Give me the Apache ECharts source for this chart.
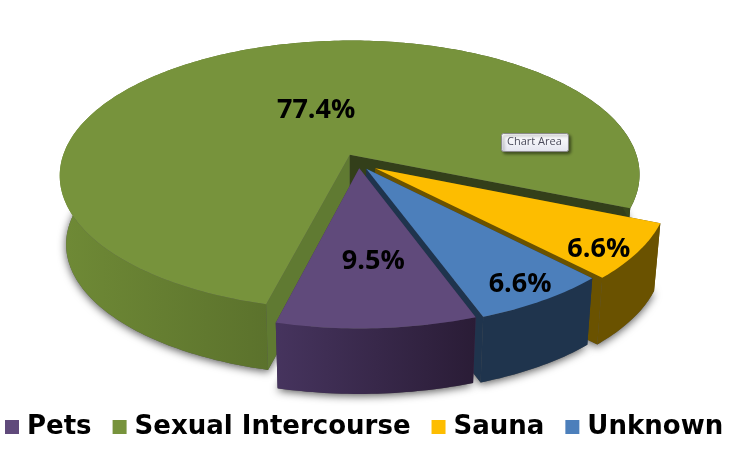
<!DOCTYPE html>
<html>
<head>
<meta charset="utf-8">
<style>html,body{margin:0;padding:0;background:#fff}#c{width:737px;height:451px}</style>
<script src="https://cdn.jsdelivr.net/npm/echarts@6/dist/echarts.min.js"></script>
</head>
<body>
<div id="c"></div>
<script>
const categories = ['Pets', 'Sexual Intercourse', 'Sauna', 'Unknown'];
const values = [9.5, 77.4, 6.6, 6.6];
const topColors = ['#604a7b', '#77933c', '#fdbd00', '#4c7fbb'];
const cutColors = ['#3f3050', '#607a32', '#6a5200', '#1f344d'];
const endCutColors = ['#3f3050', '#333f1a', '#6a5200', '#1f344d'];
const wallStops = [
  ['#46345e', '#2a1c36'],
  ['#6f8a36', '#38471b'],
  ['#6a5200', '#6a5200'],
  ['#1f344d', '#1f344d']
];
const sliceScale = [1.015, 1.015, 1.01, 1.01];
const explodeBy = [0.04, 0.07, 0.07, 0.05];
const drawOrder = [1, 2, 3, 0];
const labelFrac = [[0.0, 0.58], [0.3, 0.43], [0.85, 0.97], [0.87, 0.877]];

const FIRST = 160, PERSP = 0.15;
const CX = 358.7, CY = 163, RX = 285, RY = 132, DEPTH = 69, SHRINK = 0.978;
const total = values.reduce((a, b) => a + b, 0);
const rad = d => d * Math.PI / 180;

function proj(X, Y) {
  const w = 1 - PERSP * Y;
  return [CX + RX * X / w, CY + RY * Y / w];
}
function geometry(i) {
  let start = FIRST;
  for (let k = 0; k < i; k++) start += values[k] / total * 360;
  const end = start + values[i] / total * 360;
  const mid = (start + end) / 2;
  const ex = explodeBy[i] * Math.sin(rad(mid)), ey = -explodeBy[i] * Math.cos(rad(mid));
  const s = sliceScale[i];
  const apex = proj(ex, ey);
  const rim = t => proj(ex + s * Math.sin(rad(t)), ey - s * Math.cos(rad(t)));
  const low = p => [apex[0] + SHRINK * (p[0] - apex[0]), apex[1] + SHRINK * (p[1] - apex[1]) + DEPTH];
  const arc = [];
  for (let t = start; t < end; t += 1) arc.push(rim(t));
  arc.push(rim(end));
  return { start, end, mid, apex, rim, low, arc };
}
function wallShape(g) {
  return g.arc.concat(g.arc.map(g.low).reverse());
}
function gradient(a, b) {
  return new echarts.graphic.LinearGradient(0, 0, 1, 0, [{ offset: 0, color: a }, { offset: 1, color: b }]);
}
function renderSlice(i) {
  const g = geometry(i);
  const first = g.arc[0], last = g.arc[g.arc.length - 1];
  const poly = (points, fill) => ({ type: 'polygon', shape: { points }, style: { fill } });
  const pct = values[i].toFixed(1) + '%';
  const m = g.rim(g.mid);
  const lx = g.apex[0] + (m[0] - g.apex[0]) * labelFrac[i][0] + (i === 0 ? 14 : 0);
  const ly = g.apex[1] + (m[1] - g.apex[1]) * labelFrac[i][1];
  return {
    type: 'group',
    children: [
      poly([g.apex, first, g.low(first), g.low(g.apex)], cutColors[i]),
      poly([g.apex, last, g.low(last), g.low(g.apex)], endCutColors[i]),
      poly(wallShape(g), gradient(wallStops[i][0], wallStops[i][1])),
      poly([g.apex].concat(g.arc), topColors[i]),
      {
        type: 'text', z2: 10,
        style: {
          x: lx, y: ly, text: pct, fill: '#000', align: 'center', verticalAlign: 'middle',
          font: 'bold 27px "Open Sans", sans-serif'
        }
      }
    ]
  };
}

const series = [{
  type: 'custom', name: 'shadow', coordinateSystem: 'none', silent: true, z: 1,
  data: values,
  renderItem: (p) => {
    const g = geometry(p.dataIndex);
    return {
      type: 'polygon', shape: { points: [g.low(g.apex)].concat(g.arc.map(g.low)) },
      style: { fill: '#555', shadowBlur: 8, shadowColor: 'rgba(0,0,0,0.65)', shadowOffsetY: 2 }
    };
  }
}];
drawOrder.forEach((i, n) => {
  series.push({
    type: 'custom', name: categories[i], coordinateSystem: 'none', silent: true, z: 2 + n,
    itemStyle: { color: topColors[i] },
    data: [values[i]],
    renderItem: () => renderSlice(i)
  });
});

const chart = echarts.init(document.getElementById('c'));
chart.setOption({
  animation: false,
  backgroundColor: '#fff',
  legend: {
    data: categories, left: 0, top: 409, itemGap: 21, itemWidth: 14, itemHeight: 14, icon: 'rect',
    selectedMode: false,
    textStyle: { fontFamily: 'DejaVu Sans', fontWeight: 'bold', fontSize: 26, color: '#000', padding: [0, 0, 0, 3] }
  },
  graphic: [
    { type: 'rect', z: 100, left: 501, top: 133,
      shape: { width: 67, height: 18, r: 2 },
      style: {
        fill: new echarts.graphic.LinearGradient(0, 0, 0, 1, [{ offset: 0, color: '#ffffff' }, { offset: 1, color: '#e4e5f0' }]),
        stroke: '#8a8a8a', lineWidth: 1, shadowBlur: 3, shadowColor: 'rgba(0,0,0,0.45)', shadowOffsetX: 2, shadowOffsetY: 2
      } },
    { type: 'text', z: 101, left: 507, top: 136,
      style: { text: 'Chart Area', fill: '#4c4c5c', font: '11px "Open Sans", sans-serif' } }
  ],
  series
});
</script>
</body>
</html>
